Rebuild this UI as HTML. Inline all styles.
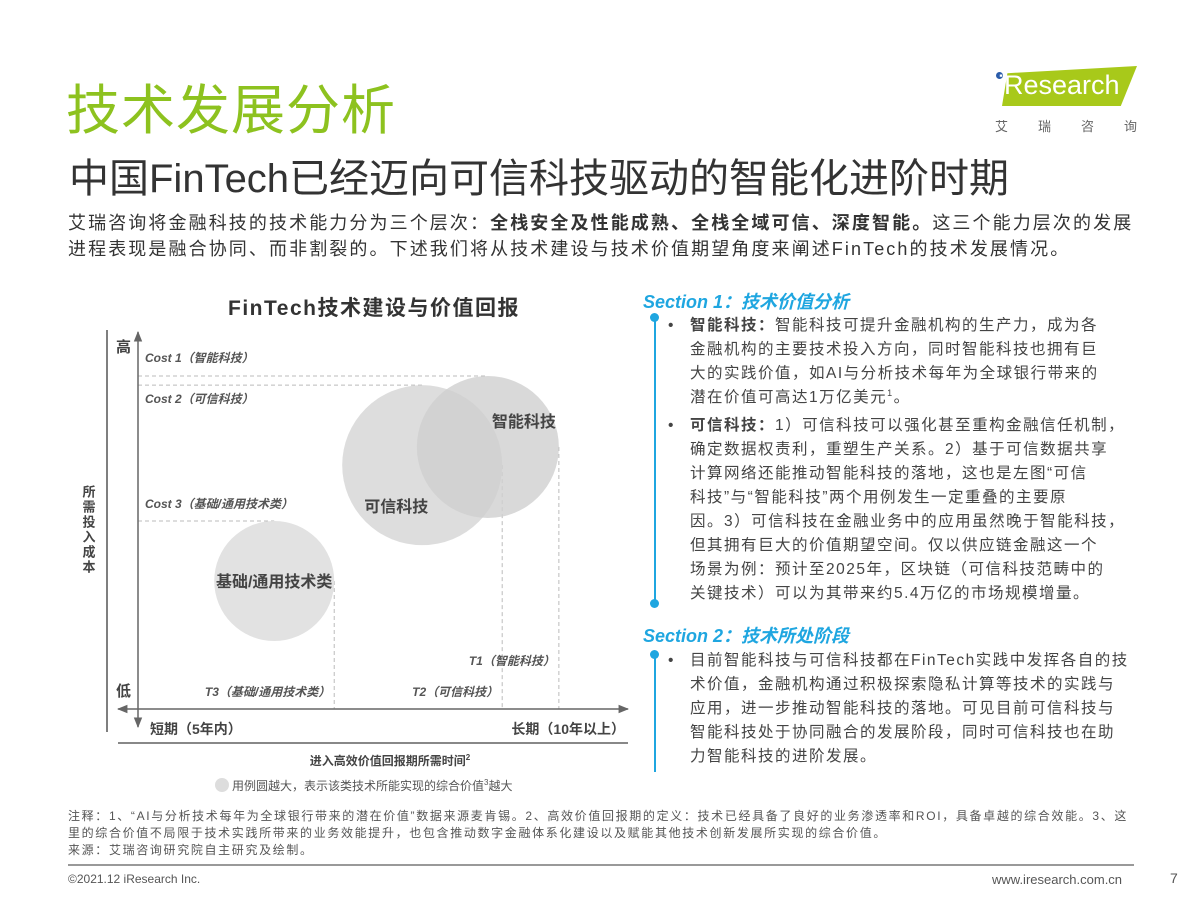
<!DOCTYPE html>
<html><head><meta charset="utf-8">
<style>
*{margin:0;padding:0;box-sizing:border-box}
body{width:1200px;height:900px;background:#fff;position:relative;overflow:hidden;font-family:"Liberation Sans","Noto Sans CJK SC",sans-serif;color:#333}
.a{position:absolute;white-space:nowrap}
.rp{font-size:15.5px;letter-spacing:1.5px;color:#444;line-height:24px}
.rp sup{font-size:9px;line-height:0}
.sec{color:#1fa6e0;font-weight:bold;font-style:italic;font-size:18px}
.note{font-size:12px;color:#555;letter-spacing:1.65px}
</style></head><body>
<div class="a" style="left:66px;top:66px;font-size:54px;color:#8dc21f;letter-spacing:1px">技术发展分析</div>
<div class="a" style="left:992px;top:64px;width:150px;height:72px">
 <div style="position:absolute;left:10px;top:2px;width:135px;height:40px;background:#a8c91a;clip-path:polygon(4% 18%,100% 0,88% 100%,0 100%)"></div>
 <div style="position:absolute;left:4px;top:8px;width:7px;height:7px;border-radius:50%;background:#2a5caa"></div>
 <div style="position:absolute;left:6px;top:6px;font-size:27px;color:#fff">iResearch</div>
 <div style="position:absolute;left:3px;top:52px;font-size:13px;color:#666;letter-spacing:30px">艾瑞咨询</div>
</div>
<div class="a" style="left:69px;top:146px;font-size:40px;color:#333">中国FinTech已经迈向可信科技驱动的智能化进阶时期</div>
<div class="a" style="left:68px;top:210px;font-size:18px;line-height:26px;letter-spacing:2.1px;color:#333">艾瑞咨询将金融科技的技术能力分为三个层次：<b>全栈安全及性能成熟、全栈全域可信、深度智能。</b>这三个能力层次的发展<br>进程表现是融合协同、而非割裂的。下述我们将从技术建设与技术价值期望角度来阐述FinTech的技术发展情况。</div>

<svg class="a" style="left:0;top:0" width="640" height="800" id="chart">
<defs><marker id="ar" viewBox="0 0 10 10" refX="9" refY="5" markerWidth="7" markerHeight="7" orient="auto-start-reverse"><path d="M0,1 L10,5 L0,9 z" fill="#666"/></marker></defs>
<text x="374" y="315" text-anchor="middle" font-size="21" font-weight="bold" fill="#333" letter-spacing="1.5">FinTech技术建设与价值回报</text>
<g id="marks"></g>
<line x1="107" y1="330" x2="107" y2="732" stroke="#555" stroke-width="1.5"/>
<line x1="118" y1="743" x2="628" y2="743" stroke="#888" stroke-width="2"/>
<line x1="138" y1="727" x2="138" y2="332" stroke="#666" stroke-width="1.5" marker-start="url(#ar)" marker-end="url(#ar)"/>
<line x1="118" y1="709" x2="628" y2="709" stroke="#666" stroke-width="1.5" marker-start="url(#ar)" marker-end="url(#ar)"/>
<text x="116" y="352" font-size="15" font-weight="bold" fill="#444">高</text>
<text x="116" y="696" font-size="15" font-weight="bold" fill="#444">低</text>
<text x="150" y="734" font-size="14" font-weight="bold" fill="#444">短期（5年内）</text>
<text x="625" y="734" text-anchor="end" font-size="14" font-weight="bold" fill="#444">长期（10年以上）</text>
<text font-size="13" font-weight="bold" fill="#444" x="88" y="485" style="writing-mode:vertical-rl" letter-spacing="2">所需投入成本</text>
<text x="390" y="765" text-anchor="middle" font-size="12" font-weight="bold" fill="#444">进入高效价值回报期所需时间<tspan font-size="8" dy="-5">2</tspan></text>
<circle cx="222" cy="785" r="7" fill="#ddd"/>
<text x="232" y="790" font-size="12" fill="#555">用例圆越大，表示该类技术所能实现的综合价值<tspan font-size="8" dy="-5">3</tspan><tspan dy="5">越大</tspan></text>
</svg>

<div class="a" style="left:654px;top:316px;width:2px;height:288px;background:#1fa6e0"></div>
<div class="a" style="left:650px;top:313px;width:9px;height:9px;border-radius:50%;background:#1fa6e0"></div>
<div class="a" style="left:650px;top:599px;width:9px;height:9px;border-radius:50%;background:#1fa6e0"></div>
<div class="a" style="left:654px;top:652px;width:2px;height:120px;background:#1fa6e0"></div>
<div class="a" style="left:650px;top:650px;width:9px;height:9px;border-radius:50%;background:#1fa6e0"></div>

<div class="a sec" style="left:643px;top:288px">Section 1：技术价值分析</div>
<div class="a rp" style="left:668px;top:314px">
<span style="position:absolute;left:0">•</span>
<div style="margin-left:22px"><b>智能科技：</b>智能科技可提升金融机构的生产力，成为各<br>金融机构的主要技术投入方向，同时智能科技也拥有巨<br>大的实践价值，如AI与分析技术每年为全球银行带来的<br>潜在价值可高达1万亿美元<sup>1</sup>。</div></div>
<div class="a rp" style="left:668px;top:414px">
<span style="position:absolute;left:0">•</span>
<div style="margin-left:22px"><b>可信科技：</b>1）可信科技可以强化甚至重构金融信任机制，<br>确定数据权责利，重塑生产关系。2）基于可信数据共享<br>计算网络还能推动智能科技的落地，这也是左图“可信<br>科技”与“智能科技”两个用例发生一定重叠的主要原<br>因。3）可信科技在金融业务中的应用虽然晚于智能科技，<br>但其拥有巨大的价值期望空间。仅以供应链金融这一个<br>场景为例：预计至2025年，区块链（可信科技范畴中的<br>关键技术）可以为其带来约5.4万亿的市场规模增量。</div></div>
<div class="a sec" style="left:643px;top:622px">Section 2：技术所处阶段</div>
<div class="a rp" style="left:668px;top:649px">
<span style="position:absolute;left:0">•</span>
<div style="margin-left:22px">目前智能科技与可信科技都在FinTech实践中发挥各自的技<br>术价值，金融机构通过积极探索隐私计算等技术的实践与<br>应用，进一步推动智能科技的落地。可见目前可信科技与<br>智能科技处于协同融合的发展阶段，同时可信科技也在助<br>力智能科技的进阶发展。</div></div>

<div class="a note" style="left:68px;top:808px;line-height:17px">注释：1、“AI与分析技术每年为全球银行带来的潜在价值”数据来源麦肯锡。2、高效价值回报期的定义：技术已经具备了良好的业务渗透率和ROI，具备卓越的综合效能。3、这<br>里的综合价值不局限于技术实践所带来的业务效能提升，也包含推动数字金融体系化建设以及赋能其他技术创新发展所实现的综合价值。<br>来源：艾瑞咨询研究院自主研究及绘制。</div>
<div class="a" style="left:68px;top:864px;width:1066px;height:2px;background:#999"></div>
<div class="a" style="left:68px;top:872px;font-size:12px;color:#555">©2021.12 iResearch Inc.</div>
<div class="a" style="left:992px;top:872px;font-size:13px;color:#555">www.iresearch.com.cn</div>
<div class="a" style="left:1170px;top:870px;font-size:14px;color:#555">7</div>

<script>
const names=["基础/通用技术类","可信科技","智能科技"];
const timeVals=[2.78,5.8,7.14];
const costVals=[3.46,6.59,7.08];
const valueVals=[6.0,8.0,7.1];
const costLabels=["Cost 3（基础/通用技术类）","Cost 2（可信科技）","Cost 1（智能科技）"];
const timeLabels=["T3（基础/通用技术类）","T2（可信科技）","T1（智能科技）"];
const NS="http://www.w3.org/2000/svg";
const xS=v=>138+v*49, yS=v=>709-v*37, rS=v=>v*10;
const g=document.getElementById('marks');
function mk(t,a){const e=document.createElementNS(NS,t);for(const k in a)e.setAttribute(k,a[k]);g.appendChild(e);return e;}
const fills=["#e2e2e2","#d4d4d4","#d0d0d0"];
const costOff=[-13,18,-14];
for(let i=0;i<names.length;i++){
 const cx=xS(timeVals[i]),cy=yS(costVals[i]),r=rS(valueVals[i]);
 const hl=mk('line',{x1:138,y1:cy-r,x2:cx,y2:cy-r,stroke:"#bbb","stroke-dasharray":"4,3"});
 
 
 const vl=mk('line',{x1:cx+r,y1:cy,x2:cx+r,y2:709,stroke:"#bbb","stroke-dasharray":"4,3"});
 
 
}
for(let i=0;i<names.length;i++){
 const cx=xS(timeVals[i]),cy=yS(costVals[i]),r=rS(valueVals[i]);
 const c=mk('circle',{cx:cx,cy:cy,r:r,fill:fills[i],"fill-opacity":i==0?1:0.8});
 
 
 const ct=mk('text',{x:145,y:cy-r+costOff[i],"font-size":12,"font-weight":"bold","font-style":"italic",fill:"#555"});
 ct.textContent=costLabels[i];
 
 
 const ty=i==2?665:696;
 const tt=mk('text',{x:cx+r-4,y:ty,"text-anchor":"end","font-size":12,"font-weight":"bold","font-style":"italic",fill:"#555"});
 tt.textContent=timeLabels[i];
 
 
}
const lp=[[0,6],[-26,47],[36,-20]];
for(let i=0;i<names.length;i++){
 const cx=xS(timeVals[i]),cy=yS(costVals[i]);
 const t=mk('text',{x:cx+lp[i][0],y:cy+lp[i][1],"text-anchor":"middle","font-size":16,"font-weight":"bold",fill:"#444"});
 t.textContent=names[i];
 
 
}
</script>
</body></html>
